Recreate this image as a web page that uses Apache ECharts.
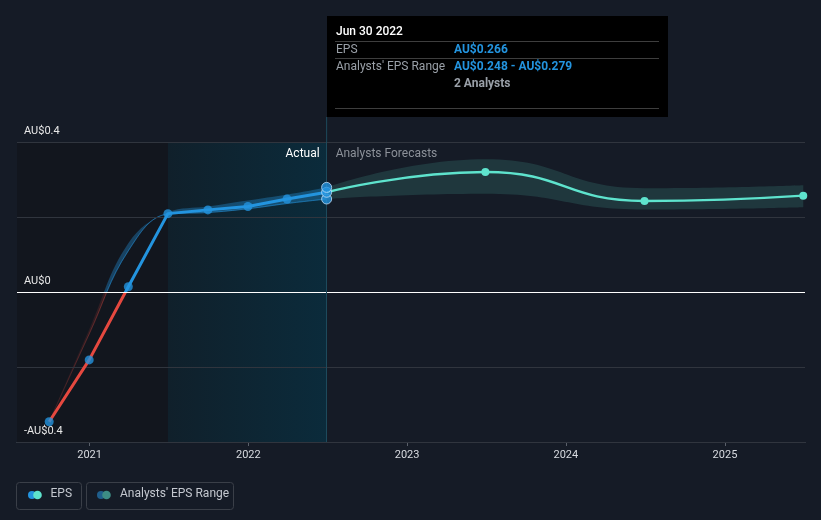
<!DOCTYPE html>
<html><head><meta charset="utf-8">
<style>html,body{margin:0;padding:0;background:#151b26;}#c{width:821px;height:520px;}</style>
<script src="https://cdn.jsdelivr.net/npm/echarts@6/dist/echarts.min.js"></script>
</head><body><div id="c"></div>
<script>
// ---- data ----
var actualDates = ['2020-09-30','2020-12-31','2021-03-31','2021-06-30','2021-09-30','2021-12-31','2022-03-31','2022-06-30'];
var actualEps   = [-0.346, -0.181, 0.014, 0.209, 0.219, 0.228, 0.248, 0.266];
var pastRangeLow  = [-0.346, -0.112, 0.110, 0.208, 0.212, 0.222, 0.236, 0.248];
var pastRangeHigh = [-0.346, -0.100, 0.130, 0.212, 0.228, 0.244, 0.260, 0.279];
var fcDates = ['2022-06-30','2023-06-30','2024-06-30','2025-06-30'];
var fcEps   = [0.266, 0.320, 0.243, 0.257];
var fcLow   = [0.248, 0.262, 0.220, 0.226];
var fcHigh  = [0.279, 0.354, 0.277, 0.285];
var focusDate = '2022-06-30';
var focusValues = [0.248, 0.266, 0.279];
var tipTitle = 'Jun 30 2022';
var tipEps = 'AU$0.266';
var tipRange = 'AU$0.248 - AU$0.279';
var tipAnalysts = '2 Analysts';

function pairs(d, v){ return d.map(function(x,i){return [x, v[i]];}); }
function diffs(d, lo, hi){ return d.map(function(x,i){return [x, +(hi[i]-lo[i]).toFixed(4)];}); }

var chart = echarts.init(document.getElementById('c'));
var FONT = 'Roboto, "Noto Sans", sans-serif';
var BLUE = '#2394df', RED = '#e5483f', TEAL = '#5ee3cd';

var option = {
  backgroundColor: '#151b26',
  animation: false,
  textStyle: {fontFamily: FONT},
  grid: {left: 17, right: 16, top: 142, bottom: 78},
  xAxis: {
    type: 'time',
    min: '2020-07-18', max: '2025-07-04',
    splitNumber: 5,
    minInterval: 365*86400000,
    axisLine: {onZero: false, lineStyle: {color: '#5a606a'}},
    axisTick: {show: true, length: 4, lineStyle: {color: '#5a606a'}},
    splitLine: {show: false},
    axisLabel: {color: '#d8dbe0', fontSize: 11, margin: 8, formatter: '{yyyy}', fontFamily: FONT}
  },
  yAxis: {
    type: 'value', min: -0.4, max: 0.4, interval: 0.2,
    axisLine: {show: false}, axisTick: {show: false},
    splitLine: {lineStyle: {color: '#30353e', width: 1}},
    axisLabel: {
      inside: true, margin: 7, verticalAlign: 'bottom', padding: [0,0,5,0],
      color: '#e8e8e8', fontSize: 11, fontFamily: FONT,
      showMinLabel: true, showMaxLabel: true,
      formatter: function(v){
        if (Math.abs(v) < 1e-9) return 'AU$0';
        if (Math.abs(v-0.4) < 1e-9) return 'AU$0.4';
        if (Math.abs(v+0.4) < 1e-9) return '-AU$0.4';
        return '';
      }
    },
    z: 3
  },
  series: [
    { // 0 background areas and reference lines
      type:'line', symbol:'none', data: [], silent:true,
      markArea: {silent:true, data:[
        [{xAxis:'2020-07-18', itemStyle:{color:'#12161e'}},{xAxis:'2021-06-30'}],
        [{xAxis:'2021-06-30', itemStyle:{color:{type:'linear',x:0,y:0,x2:1,y2:0,colorStops:[{offset:0,color:'#10202b'},{offset:1,color:'#0b2b3b'}]}}},{xAxis:'2022-06-30'}]
      ]},
      markLine: {silent:true, symbol:'none', label:{show:false},
        data:[{yAxis:0, lineStyle:{color:'#ffffff', width:1, type:'solid'}},
              {xAxis:focusDate, lineStyle:{color:'#1d4a5c', width:1, type:'solid'}}]}
    },
    { // 1 past range lower
      type:'line', stack:'past', stackStrategy:'all', smooth:0.4, symbol:'none',
      data: pairs(actualDates, pastRangeLow),
      lineStyle:{width:1, color:'rgba(35,148,223,0.45)'}, z:2
    },
    { // 2 past range width
      type:'line', stack:'past', stackStrategy:'all', smooth:0.4, symbol:'none',
      data: diffs(actualDates, pastRangeLow, pastRangeHigh),
      lineStyle:{width:0, opacity:0},
      areaStyle:{color:'rgba(35,148,223,0.5)'}, z:2
    },
    { // 3 forecast range lower
      type:'line', stack:'fc', stackStrategy:'all', smooth:0.5, symbol:'none',
      data: pairs(fcDates, fcLow),
      lineStyle:{width:0, opacity:0}, z:2
    },
    { // 4 forecast range width
      type:'line', stack:'fc', stackStrategy:'all', smooth:0.5, symbol:'none',
      data: diffs(fcDates, fcLow, fcHigh),
      lineStyle:{width:0, opacity:0},
      areaStyle:{color:'rgba(94,227,205,0.2)'}, z:2
    },
    { // 5 actual EPS line
      type:'line', symbol:'none', data: pairs(actualDates, actualEps),
      lineStyle:{width:3, color:BLUE}, z:4
    },
    { // 6 actual EPS points
      type:'scatter', symbolSize:9, data: pairs(actualDates.slice(0,-1), actualEps.slice(0,-1)),
      itemStyle:{color:BLUE}, z:5
    },
    { // 7 forecast line
      type:'line', smooth:0.5, data: pairs(fcDates, fcEps).map(function(p,i){
        return i===0 ? {value:p, symbol:'none'} : {value:p};
      }),
      symbol:'circle', symbolSize:8, showSymbol:true,
      lineStyle:{width:2.5, color:TEAL}, itemStyle:{color:TEAL}, z:4
    },
    { // 8 focus points
      type:'scatter', symbolSize:10,
      data: focusValues.map(function(v){return [focusDate, v];}),
      itemStyle:{color:BLUE, borderColor:'#bfe0fb', borderWidth:1}, z:6
    }
  ]
};
chart.setOption(option);

// colour split at zero (style only)
var y0 = chart.convertToPixel({gridIndex:0}, ['2021-01-01', 0])[1];
var yTop = chart.convertToPixel({gridIndex:0}, ['2021-01-01', 0.4])[1];
var yBot = chart.convertToPixel({gridIndex:0}, ['2021-01-01', -0.4])[1];
var f = (y0 - yTop) / (yBot - yTop);
function split(cAbove, cBelow, cBottom){
  return {type:'linear', x:0, y:yTop, x2:0, y2:yBot, global:true,
    colorStops:[{offset:0,color:cAbove},{offset:f,color:cAbove},{offset:f,color:cBelow},{offset:1,color:cBottom||cBelow}]};
}

var lx = chart.convertToPixel({gridIndex:0}, [focusDate, 0])[0];
var gTop = yTop;
var tipL = Math.round(lx), tipT = 16, tipW = 341, tipH = 101;
var g = [
  {type:'line', shape:{x1:lx, y1:tipT+tipH, x2:lx, y2:gTop}, style:{stroke:'#1d4a5c', lineWidth:1}, z:90},
  {type:'rect', shape:{x:tipL, y:tipT, width:tipW, height:tipH}, style:{fill:'#000000'}, z:95},
  {type:'text', x:tipL+9, y:tipT+10, style:{text:tipTitle, fill:'#ffffff', font:'500 12px '+FONT}, z:100},
  {type:'line', shape:{x1:tipL+8, y1:tipT+25.5, x2:tipL+332, y2:tipT+25.5}, style:{stroke:'#3e3e3e', lineWidth:1}, z:100},
  {type:'text', x:tipL+9, y:tipT+28, style:{text:'EPS', fill:'#9aa0a8', font:'12px '+FONT}, z:100},
  {type:'text', x:tipL+127, y:tipT+28, style:{text:tipEps, fill:BLUE, font:'bold 12px '+FONT}, z:100},
  {type:'line', shape:{x1:tipL+8, y1:tipT+42.5, x2:tipL+332, y2:tipT+42.5}, style:{stroke:'#3e3e3e', lineWidth:1}, z:100},
  {type:'text', x:tipL+9, y:tipT+45, style:{text:"Analysts' EPS Range", fill:'#9aa0a8', font:'12px '+FONT}, z:100},
  {type:'text', x:tipL+127, y:tipT+45, style:{text:tipRange, fill:BLUE, font:'bold 12px '+FONT}, z:100},
  {type:'text', x:tipL+127, y:tipT+62, style:{text:tipAnalysts, fill:'#9aa0a8', font:'bold 12px '+FONT}, z:100},
  {type:'line', shape:{x1:tipL+8, y1:tipT+92.5, x2:tipL+332, y2:tipT+92.5}, style:{stroke:'#3e3e3e', lineWidth:1}, z:100},
  {type:'text', x:lx-7, y:148, style:{text:'Actual', fill:'#ffffff', font:'12px '+FONT, align:'right'}, z:100},
  {type:'text', x:lx+9, y:148, style:{text:'Analysts Forecasts', fill:'#8c9199', font:'12px '+FONT}, z:100},
  // legend
  {type:'rect', shape:{x:16.5, y:482.5, width:65, height:27, r:3}, style:{fill:'none', stroke:'#3a3f48', lineWidth:1}, z:100},
  {type:'circle', shape:{cx:32, cy:495, r:4}, style:{fill:BLUE}, z:100},
  {type:'circle', shape:{cx:37.5, cy:495, r:4.3}, style:{fill:TEAL}, z:101},
  {type:'text', x:50.5, y:488, style:{text:'EPS', fill:'#c4c8cf', font:'12px '+FONT}, z:100},
  {type:'rect', shape:{x:86.5, y:482.5, width:147, height:27, r:3}, style:{fill:'none', stroke:'#3a3f48', lineWidth:1}, z:100},
  {type:'circle', shape:{cx:101, cy:495, r:4}, style:{fill:'#1f5e8c'}, z:100},
  {type:'circle', shape:{cx:106.5, cy:495, r:4.3}, style:{fill:'#3d8c84'}, z:101},
  {type:'text', x:120, y:488, style:{text:"Analysts' EPS Range", fill:'#c4c8cf', font:'12px '+FONT}, z:100}
];
chart.setOption({
  series: [{},
           {lineStyle:{color: split('rgba(35,148,223,0.35)','rgba(229,72,63,0.22)','rgba(229,72,63,0.05)')}},
           {areaStyle:{color: split('rgba(35,148,223,0.5)','rgba(229,72,63,0.22)','rgba(229,72,63,0.05)')}},
           {}, {},
           {lineStyle:{color: split(BLUE, RED)}}],
  graphic: g
});
</script>
</body></html>
